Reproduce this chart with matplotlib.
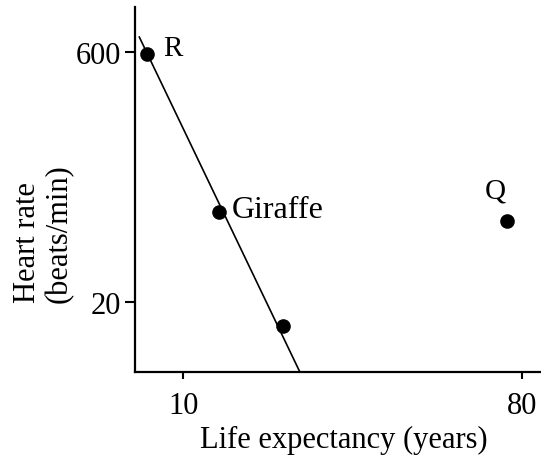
import matplotlib.pyplot as plt
from matplotlib.ticker import FixedLocator, NullLocator

# values (log-log axes)
names = ["R", "Giraffe", "", "Q"]
life_years = [7.99, 12.47, 18.46, 72.7]
heart_rate = [586, 68, 14.5, 60.4]
fit_x = [7.63, 20.4]
fit_y = [738, 7.8]
x_ticks = [10, 80]
y_ticks = [20, 600]

plt.rcParams['font.family'] = ['Liberation Serif', 'DejaVu Serif']

fig = plt.figure(figsize=(5.41, 4.56), dpi=100)
ax = fig.add_axes([135 / 541, (456 - 372.5) / 456, 406 / 541, (372.5 - 8) / 456])

ax.plot(fit_x, fit_y, color='black', linewidth=1.2)
ax.plot(life_years, heart_rate, 'o', color='black', markersize=9.5)

# point labels
label_style = {"R": (12, 4, 21), "Giraffe": (9, 2, 23), "Q": (-16, 22, 21)}
for name, x, y in zip(names, life_years, heart_rate):
    if not name:
        continue
    dx, dy, fs = label_style[name]
    ax.annotate(name, (x, y), xytext=(dx, dy), textcoords='offset points',
                fontsize=fs, va='center', ha='left')

ax.set_xscale('log')
ax.set_yscale('log')
ax.set_xlim(7.43, 89.7)
ax.set_ylim(7.8, 1111)

ax.xaxis.set_major_locator(FixedLocator(x_ticks))
ax.yaxis.set_major_locator(FixedLocator(y_ticks))
ax.xaxis.set_minor_locator(NullLocator())
ax.yaxis.set_minor_locator(NullLocator())
ax.set_xticklabels([str(t) for t in x_ticks])
ax.set_yticklabels([str(t) for t in y_ticks])

for side in ['top', 'right']:
    ax.spines[side].set_visible(False)
for side in ['left', 'bottom']:
    ax.spines[side].set_linewidth(1.6)

ax.tick_params(axis='y', direction='out', length=7, width=1.5, pad=3, labelsize=22)
ax.tick_params(axis='x', direction='out', length=5, width=1.5, pad=9, labelsize=22)

fig.text(344 / 541, (456 - 448) / 456, "Life expectancy (years)", fontsize=22,
         ha='center', va='baseline')
fig.text(43.5 / 541, (456 - 303) / 456, "Heart rate\n(beats/min)", fontsize=22,
         rotation=90, ha='center', va='bottom', multialignment='left', linespacing=1.15)

fig.savefig('out.png', dpi=100)
